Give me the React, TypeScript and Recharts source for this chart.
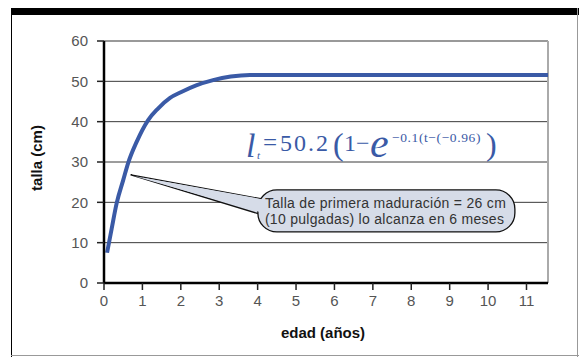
import React from "react";
import {
  LineChart,
  Line,
  XAxis,
  YAxis,
  CartesianGrid,
  ReferenceLine,
  ReferenceDot,
} from "recharts";

const ages = [0.08, 0.2, 0.33, 0.5, 0.63, 0.85, 1.15, 1.4, 1.72, 2.0, 2.4, 2.84, 3.3, 3.8, 11.56];
const lengths = [7.5, 13.5, 19.8, 25.5, 29.8, 35, 40.4, 43.2, 45.9, 47.3, 49, 50.3, 51.2, 51.6, 51.6];
const xTicks = [0, 1, 2, 3, 4, 5, 6, 7, 8, 9, 10, 11];
const yTicks = [0, 10, 20, 30, 40, 50, 60];
const xMax = 11.56;
const calloutTip = { x: 0.7, y: 26.8 };
const calloutLines = [
  "Talla de primera maduración = 26 cm",
  "(10 pulgadas) lo alcanza en 6 meses",
];
const formulaParts = {
  l: "l",
  sub: "t",
  eq: "=",
  coef: "50.2",
  open: "(",
  one: "1−",
  e: "e",
  exp: "−0.1(t−(−0.96)",
  close: ")",
};

const data = ages.map((a, i) => ({ age: a, len: lengths[i] }));

const BLUE = "#3a5aa6";
const SANS = "'Liberation Sans', Arial, Helvetica, sans-serif";
const SERIF = "'Liberation Serif', 'Times New Roman', serif";

const Callout = (props: any) => {
  const { cx, cy } = props;
  if (cx == null || cy == null) return null;
  const bx = cx + 127;
  const by = cy + 15;
  const bw = 257;
  const bh = 42;
  const tail = `${cx},${cy} ${bx + 4},${by + 9} ${bx + 1},${by + 24}`;
  const tailInner = `${cx + 3},${cy + 1} ${bx + 8},${by + 10} ${bx + 5},${by + 23}`;
  return (
    <g>
      <polygon points={tail} fill="#d6dce8" stroke="#111" strokeWidth={1.3} strokeLinejoin="round" />
      <rect x={bx} y={by} width={bw} height={bh} rx={19} ry={19} fill="#d6dce8" stroke="#111" strokeWidth={1.3} />
      <polygon points={tailInner} fill="#d6dce8" stroke="none" />
      {calloutLines.map((t, i) => (
        <text key={i} x={bx + 7} y={by + 18 + i * 16} fontFamily={SANS} fontSize={14} letterSpacing={0.3} fill="#333">
          {t}
        </text>
      ))}
    </g>
  );
};

const Formula = () => (
  <g fill={BLUE}>
    <text x={246} y={157} fontFamily={SERIF} fontStyle="italic" fontSize={34}>{formulaParts.l}</text>
    <text x={257} y={159} fontFamily={SERIF} fontStyle="italic" fontSize={11}>{formulaParts.sub}</text>
    <text x={263} y={151} fontFamily={SERIF} fontSize={25}>{formulaParts.eq}</text>
    <text x={280} y={151} fontFamily={SERIF} fontSize={24} letterSpacing={2}>{formulaParts.coef}</text>
    <text x={333} y={155} fontFamily={SERIF} fontSize={32}>{formulaParts.open}</text>
    <text x={344} y={151} fontFamily={SERIF} fontSize={24}>{formulaParts.one}</text>
    <text x={370} y={157} fontFamily={SERIF} fontStyle="italic" fontSize={42}>{formulaParts.e}</text>
    <text x={392} y={142} fontFamily={SERIF} fontSize={13.5} letterSpacing={0.6}>{formulaParts.exp}</text>
    <text x={486} y={155} fontFamily={SERIF} fontSize={32}>{formulaParts.close}</text>
  </g>
);

export default function App() {
  return (
    <div style={{ position: "absolute", left: 0, top: 0, width: 579, height: 357, background: "#fff" }}>
      <div style={{ position: "absolute", left: 11, top: 8, width: 568, height: 7, background: "#000" }} />
      <div style={{ position: "absolute", left: 11, top: 8, width: 1, height: 349, background: "#000" }} />
      <div style={{ position: "absolute", left: 577, top: 8, width: 1, height: 349, background: "#999" }} />
      <div style={{ position: "absolute", left: 11, top: 355, width: 568, height: 1, background: "#999" }} />
      <div style={{ position: "absolute", left: 0, top: 0 }}>
        <LineChart width={579} height={357} data={data} margin={{ top: 41, right: 31, bottom: 44, left: 64 }}>
          <CartesianGrid vertical={false} stroke="#3a3a3a" strokeWidth={1} />
          <XAxis
            dataKey="age"
            type="number"
            domain={[0, xMax]}
            ticks={xTicks}
            allowDataOverflow
            height={30}
            tickSize={7}
            tickMargin={5}
            stroke="#000"
            strokeWidth={2.5}
            tick={{ fill: "#555", fontSize: 15, fontFamily: SANS }}
            tickLine={{ stroke: "#222", strokeWidth: 1.5 }}
          />
          <YAxis
            type="number"
            domain={[0, 60]}
            ticks={yTicks}
            width={40}
            tickSize={7}
            tickMargin={9}
            stroke="#000"
            strokeWidth={2.5}
            tick={{ fill: "#555", fontSize: 15, fontFamily: SANS }}
            tickLine={{ stroke: "#222", strokeWidth: 1.5 }}
          />
          <ReferenceLine y={60} stroke="#999" strokeWidth={2} />
          <ReferenceLine x={xMax} stroke="#aaa" strokeWidth={2} />
          <Line
            type="monotone"
            dataKey="len"
            stroke={BLUE}
            strokeWidth={4}
            dot={false}
            isAnimationActive={false}
          />
          <ReferenceDot x={calloutTip.x} y={calloutTip.y} r={0} shape={Callout} />
          <Formula />
          <text x={36} y={158} transform="rotate(-90 36 158)" textAnchor="middle" dominantBaseline="central" fontFamily={SANS} fontWeight="bold" fontSize={15} fill="#111">
            talla (cm)
          </text>
          <text x={323} y={338} textAnchor="middle" fontFamily={SANS} fontWeight="bold" fontSize={15} fill="#111">
            edad (años)
          </text>
        </LineChart>
      </div>
    </div>
  );
}
